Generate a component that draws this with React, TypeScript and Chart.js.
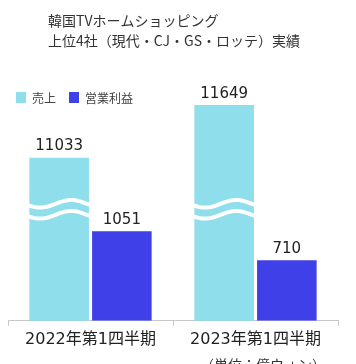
import React, { useEffect, useRef } from "react";
import { Chart, registerables } from "chart.js";

Chart.register(...registerables);

const TITLE_LINES = ["韓国TVホームショッピング", "上位4社（現代・CJ・GS・ロッテ）実績"];
const UNIT_NOTE = "（単位：億ウォン）";
const CATEGORIES = ["2022年第1四半期", "2023年第1四半期"];
const SALES = [11033, 11649];
const PROFIT = [1051, 710];
const SERIES_NAMES = ["売上", "営業利益"];
const COLORS = ["#8EDEEC", "#4040E8"];

// broken axis: sales axis starts above zero (wave marks show the break)
const PROFIT_AXIS_MAX = 2800;
const SALES_AXIS_MIN = 9120;
const BREAK_OFFSETS = [106, 117]; // px above the baseline for the two wave marks

const CJK = '"Noto Sans CJK JP", "DejaVu Sans", sans-serif';
const NUM = '"DejaVu Sans", "Noto Sans CJK JP", sans-serif';

const decorPlugin = {
  id: "decor",
  afterDatasetsDraw(chart: any) {
    const ctx = chart.ctx;
    const bottom = chart.chartArea.bottom;
    // wave break marks on the sales bars
    const salesMeta = chart.getDatasetMeta(0);
    salesMeta.data.forEach((bar: any) => {
      const p = bar.getProps(["x", "y", "width"], true);
      const w = p.width;
      const left = p.x - w / 2;
      ctx.save();
      ctx.strokeStyle = "#ffffff";
      ctx.lineWidth = 4;
      BREAK_OFFSETS.forEach((off) => {
        const cy = bottom - off;
        ctx.beginPath();
        for (let i = 0; i <= 40; i++) {
          const t = i / 40;
          const x = left - 2 + t * (w + 6);
          const y = cy + 3.8 * Math.sin(2 * Math.PI * t * 1.05 + 0.3);
          if (i === 0) ctx.moveTo(x, y);
          else ctx.lineTo(x, y);
        }
        ctx.stroke();
      });
      ctx.restore();
    });
    // value labels
    ctx.save();
    ctx.font = `15px ${NUM}`;
    ctx.fillStyle = "#222";
    ctx.textAlign = "center";
    ctx.textBaseline = "bottom";
    chart.data.datasets.forEach((ds: any, di: number) => {
      const meta = chart.getDatasetMeta(di);
      meta.data.forEach((bar: any, i: number) => {
        const p = bar.getProps(["x", "y"], true);
        ctx.fillText(String(ds.data[i]), p.x, p.y - 4);
      });
    });
    ctx.restore();
  },
  afterDraw(chart: any) {
    const ctx = chart.ctx;
    ctx.save();
    ctx.font = `14px ${CJK}`;
    ctx.fillStyle = "#333";
    ctx.textAlign = "left";
    ctx.textBaseline = "middle";
    TITLE_LINES.forEach((line, i) => ctx.fillText(line, 48, 21 + i * 20));
    ctx.textAlign = "right";
    ctx.fillText(UNIT_NOTE, 326, 365);
    // legend
    const items = [
      { x: 16, w: 10 },
      { x: 69, w: 10 },
    ];
    ctx.textAlign = "left";
    ctx.font = `12px ${CJK}`;
    chart.data.datasets.forEach((ds: any, i: number) => {
      const it = items[i];
      ctx.fillStyle = ds.backgroundColor;
      ctx.fillRect(it.x, 92, it.w, 11);
      ctx.fillStyle = "#444";
      ctx.fillText(ds.label, it.x + it.w + 6, 98);
    });
    ctx.restore();
  },
};

export default function App() {
  const ref = useRef<HTMLCanvasElement>(null);
  useEffect(() => {
    if (!ref.current) return;
    const chart = new Chart(ref.current, {
      type: "bar",
      data: {
        labels: CATEGORIES,
        datasets: [
          {
            label: SERIES_NAMES[0],
            data: SALES,
            backgroundColor: COLORS[0],
            yAxisID: "ySales",
            categoryPercentage: 0.76,
            barPercentage: 0.95,
          },
          {
            label: SERIES_NAMES[1],
            data: PROFIT,
            backgroundColor: COLORS[1],
            yAxisID: "y",
            categoryPercentage: 0.76,
            barPercentage: 0.95,
          },
        ],
      },
      options: {
        responsive: false,
        animation: false,
        layout: { padding: { left: 8, right: 18, top: 82, bottom: 11 } },
        plugins: {
          title: { display: false },
          tooltip: { enabled: false },
          legend: { display: false },
        },
        scales: {
          x: {
            grid: {
              display: true,
              drawOnChartArea: false,
              drawTicks: true,
              tickLength: 5,
              color: "#c8c8c8",
              offset: true,
            },
            border: { display: true, color: "#c8c8c8" },
            ticks: { color: "#222", font: { size: 16, family: NUM }, padding: 4 },
          },
          y: { display: false, min: 0, max: PROFIT_AXIS_MAX },
          ySales: { display: false, min: SALES_AXIS_MIN, max: SALES_AXIS_MIN + PROFIT_AXIS_MAX },
        },
      },
      plugins: [decorPlugin],
    });
    return () => chart.destroy();
  }, []);
  return (
    <div style={{ position: "absolute", left: 0, top: 0, width: 356, height: 364, background: "#fff" }}>
      <canvas ref={ref} width={356} height={364} />
    </div>
  );
}
